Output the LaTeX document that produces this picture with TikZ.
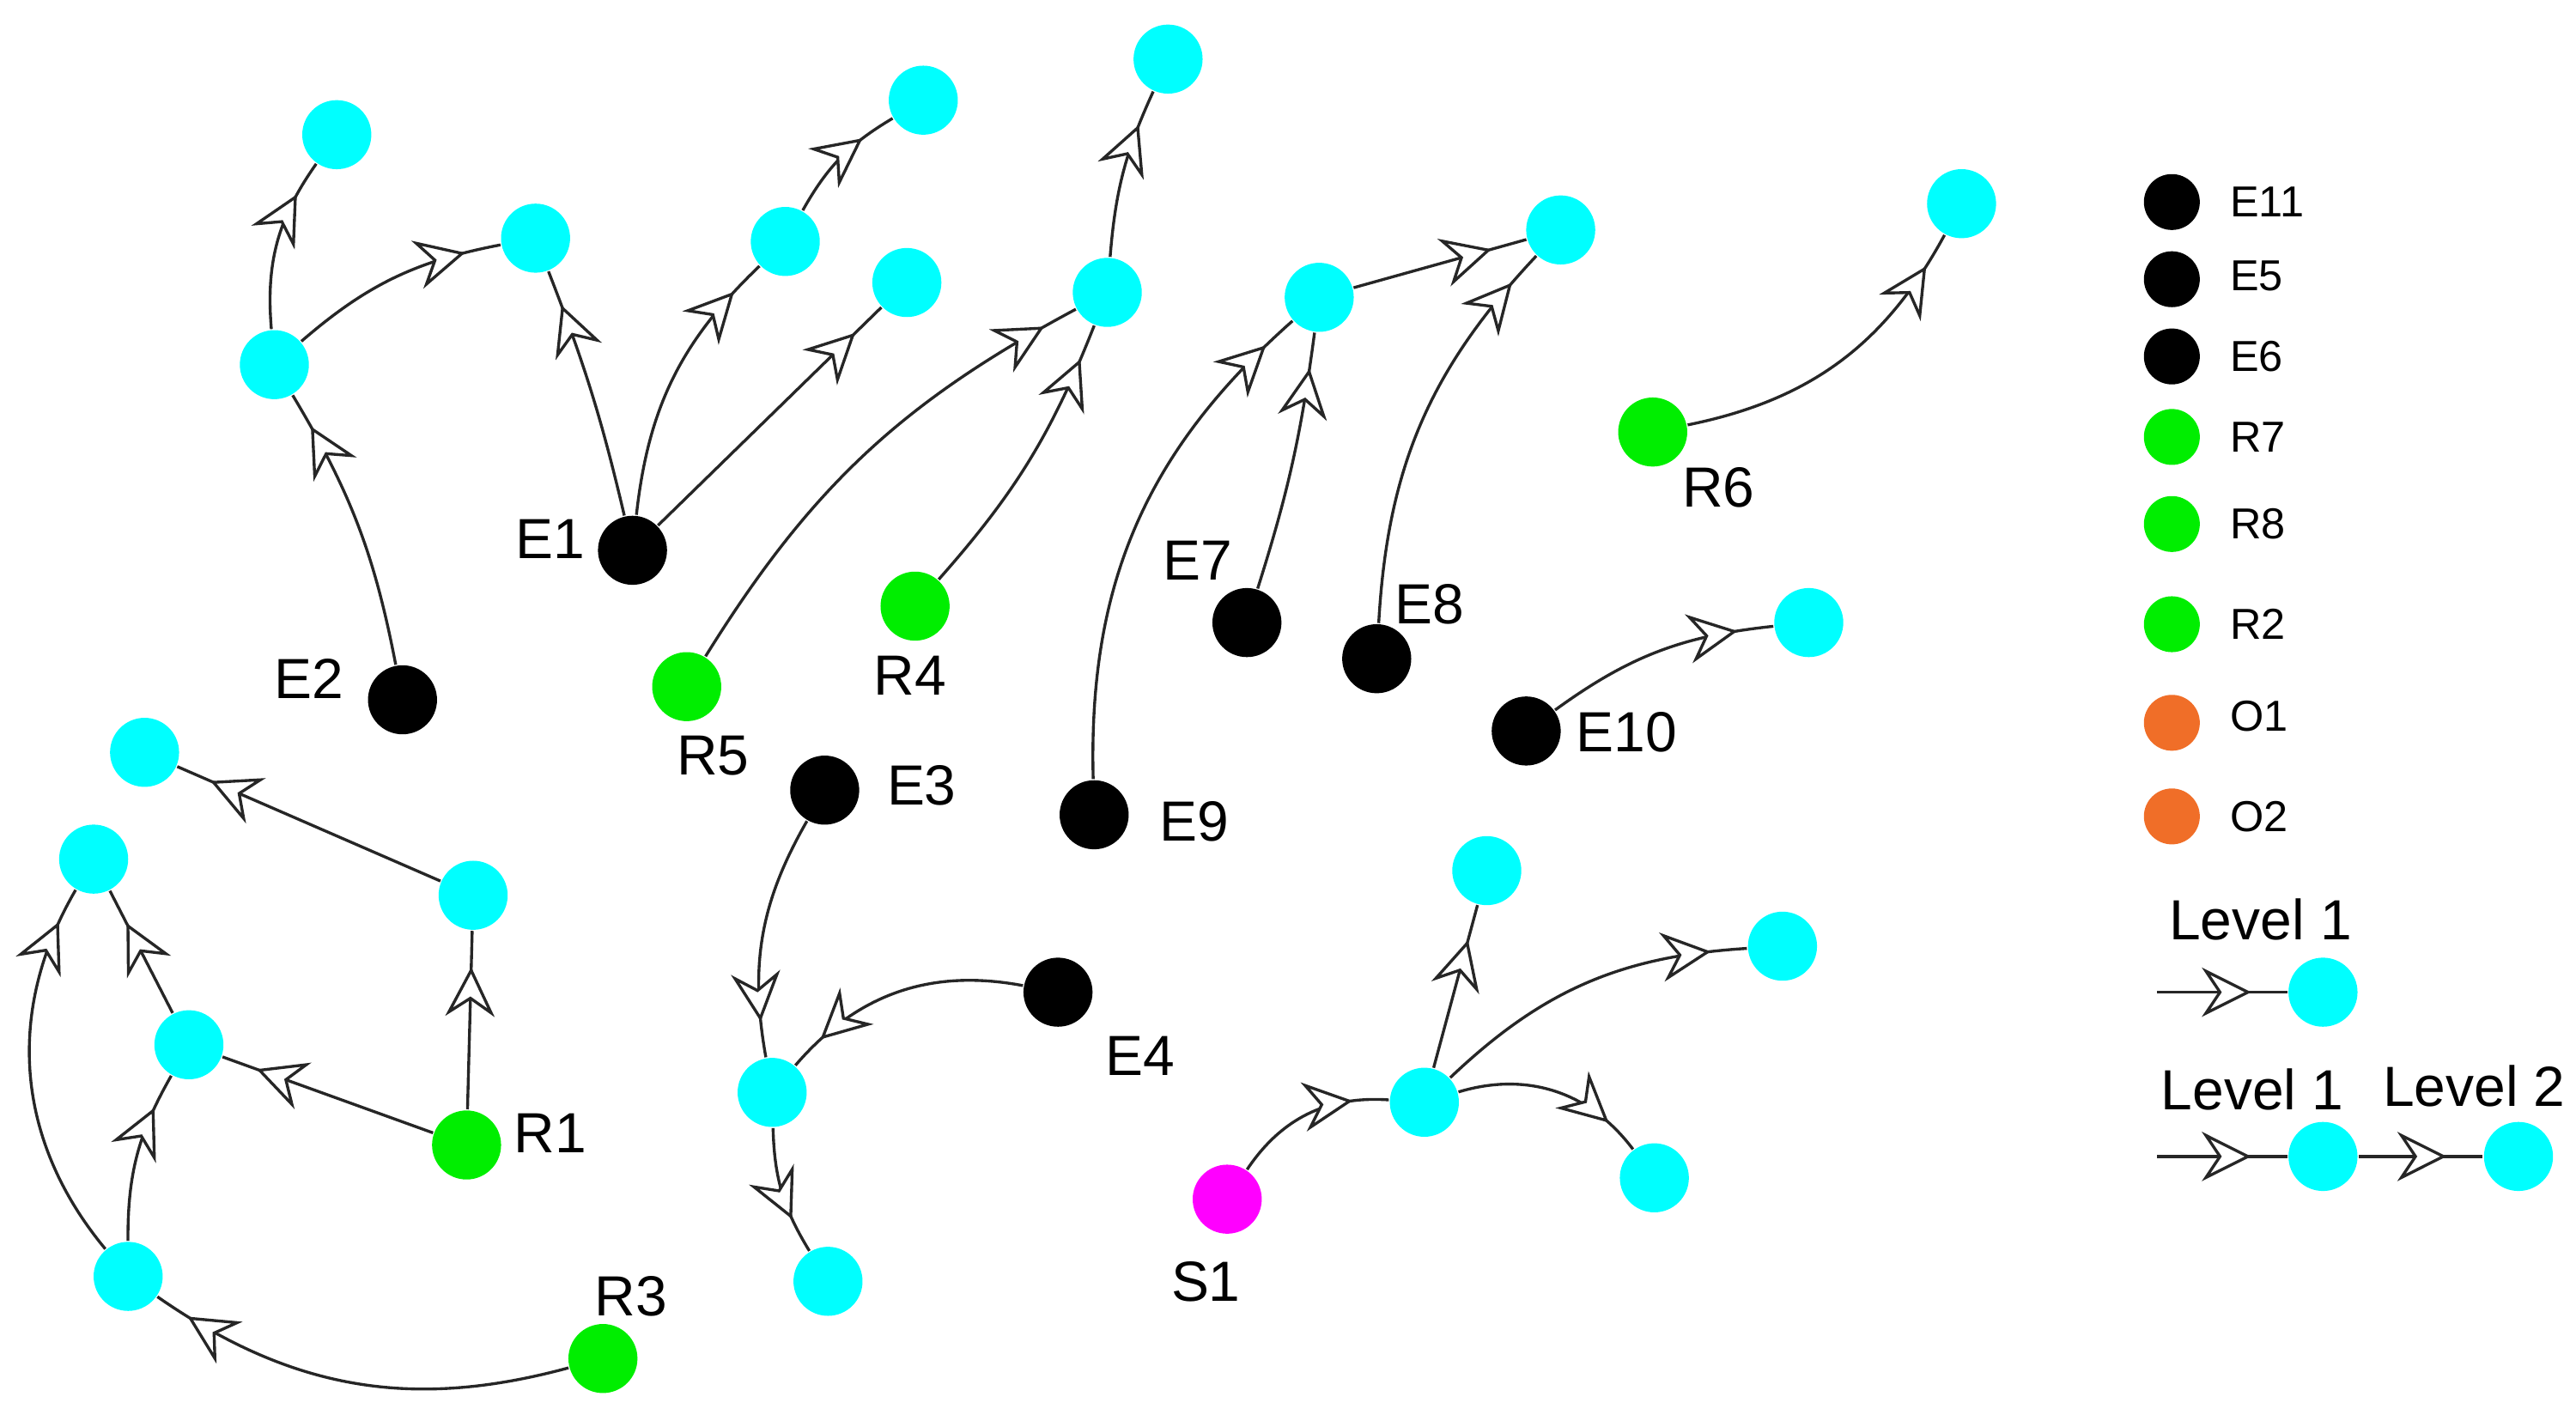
\documentclass[tikz,border=0pt]{standalone}
\usepackage{fontspec}
\setmainfont{Liberation Sans}
\usetikzlibrary{arrows.meta,decorations.markings}
\definecolor{cy}{RGB}{0,255,255}
\definecolor{gr}{RGB}{0,238,0}
\definecolor{og}{RGB}{240,110,40}
\definecolor{mg}{RGB}{255,0,255}
\begin{document}
\begin{tikzpicture}[x=0.01cm,y=-0.01cm,
  nd/.style={circle,minimum size=0.42cm,inner sep=0pt},
  ln/.style={circle,minimum size=0.34cm,inner sep=0pt},
  C/.style={nd,fill=cy}, B/.style={nd,fill=black}, G/.style={nd,fill=gr},
  lab/.style={font=\fontsize{9.8pt}{12pt}\selectfont},
  llab/.style={font=\fontsize{7.5pt}{9pt}\selectfont,anchor=west},
  e/.style={draw=black!85,line width=0.5pt,postaction={decorate},decoration={markings,
    mark=at position -0.22cm with {\arrow{Stealth[open,fill=white,length=0.3cm,width=0.3cm,inset=0.1cm,line width=0.5pt]}}}}]
\useasboundingbox (0,0) rectangle (1568,865);
% cyan nodes
\node[C] (c1) at (205,82) {};
\node[C] (c2) at (167,222) {};
\node[C] (c3) at (326,145) {};
\node[C] (c4) at (478,147) {};
\node[C] (c5) at (562,61) {};
\node[C] (c6) at (552,172) {};
\node[C] (c7) at (711,36) {};
\node[C] (c8) at (674,178) {};
\node[C] (c9) at (803,181) {};
\node[C] (c10) at (950,140) {};
\node[C] (c11) at (1194,124) {};
\node[C] (c12) at (1101,379) {};
\node[C] (c13) at (88,458) {};
\node[C] (c14) at (57,523) {};
\node[C] (c15) at (288,545) {};
\node[C] (c16) at (115,636) {};
\node[C] (c17) at (78,777) {};
\node[C] (c18) at (470,665) {};
\node[C] (c19) at (504,780) {};
\node[C] (c20) at (905,530) {};
\node[C] (c21) at (1085,576) {};
\node[C] (c22) at (867,671) {};
\node[C] (c23) at (1007,717) {};
% black
\node[B] (E1) at (385,335) {}; \node[lab] at (335,328) {E1};
\node[B] (E2) at (245,426) {}; \node[lab] at (188,413) {E2};
\node[B] (E3) at (502,481) {}; \node[lab] at (561,478) {E3};
\node[B] (E4) at (644,604) {}; \node[lab] at (694,643) {E4};
\node[B] (E7) at (759,379) {}; \node[lab] at (729,341) {E7};
\node[B] (E8) at (838,401) {}; \node[lab] at (870,368) {E8};
\node[B] (E9) at (666,496) {}; \node[lab] at (727,500) {E9};
\node[B] (E10) at (929,445) {}; \node[lab] at (990,446) {E10};
% green
\node[G] (R5) at (418,418) {}; \node[lab] at (434,460) {R5};
\node[G] (R4) at (557,369) {}; \node[lab] at (554,411) {R4};
\node[G] (R6) at (1006,263) {}; \node[lab] at (1046,297) {R6};
\node[G] (R1) at (284,697) {}; \node[lab] at (335,690) {R1};
\node[G] (R3) at (367,827) {}; \node[lab] at (384,789) {R3};
\node[nd,fill=mg] (S1) at (747,730) {}; \node[lab] at (734,780) {S1};
% edges
\draw[e] (E2) to[bend right=10] (c2);
\draw[e] (c2) to[bend left=20] (c1);
\draw[e] (c2) to[bend left=15] (c3);
\draw[e] (E1) to[bend right=4] (c3);
\draw[e] (E1) to[bend left=20] (c4);
\draw[e] (c4) to[bend left=15] (c5);
\draw[e] (E1) -- (c6);
\draw[e] (R5) to[bend left=15] (c8);
\draw[e] (R4) to[bend right=10] (c8);
\draw[e] (c8) to[bend left=10] (c7);
\draw[e] (E9) to[bend left=25] (c9);
\draw[e] (E7) to[bend right=5] (c9);
\draw[e] (c9) -- (c10);
\draw[e] (E8) to[bend left=20] (c10);
\draw[e] (R6) to[bend right=25] (c11);
\draw[e] (E10) to[bend left=15] (c12);
\draw[e] (c15) -- (c13);
\draw[e] (R1) -- (c15);
\draw[e] (R1) -- (c16);
\draw[e] (c16) -- (c14);
\draw[e] (c17) to[bend left=15] (c16);
\draw[e] (c17) to[bend left=35] (c14);
\draw[e] (R3) to[bend left=25] (c17);
\draw[e] (E3) to[bend right=20] (c18);
\draw[e] (E4) to[bend right=30] (c18);
\draw[e] (c18) to[bend right=15] (c19);
\draw[e] (S1) to[bend left=30] (c22);
\draw[e] (c22) -- (c20);
\draw[e] (c22) to[bend left=20] (c21);
\draw[e] (c22) to[bend left=35] (c23);
% legend
\node[ln,fill=black] at (1322,123) {}; \node[llab] at (1345,123) {E11};
\node[ln,fill=black] at (1322,170) {}; \node[llab] at (1345,168) {E5};
\node[ln,fill=black] at (1322,217) {}; \node[llab] at (1345,217) {E6};
\node[ln,fill=gr] at (1322,266) {}; \node[llab] at (1345,266) {R7};
\node[ln,fill=gr] at (1322,319) {}; \node[llab] at (1345,319) {R8};
\node[ln,fill=gr] at (1322,380) {}; \node[llab] at (1345,380) {R2};
\node[ln,fill=og] at (1322,440) {}; \node[llab] at (1345,436) {O1};
\node[ln,fill=og] at (1322,497) {}; \node[llab] at (1345,497) {O2};
\node[lab,anchor=west] at (1308,560) {Level 1};
\node[lab,anchor=west] at (1303,663) {Level 1};
\node[lab,anchor=west] at (1438,661) {Level 2};
\coordinate (L1) at (1313,604);
\coordinate (L2) at (1313,704);
\node[C] (la) at (1414,604) {};
\node[C] (lb) at (1414,704) {};
\node[C] (lc) at (1533,704) {};
\draw[e] (L1) -- (la);
\draw[e] (L2) -- (lb);
\draw[e] (lb) -- (lc);
\end{tikzpicture}
\end{document}
